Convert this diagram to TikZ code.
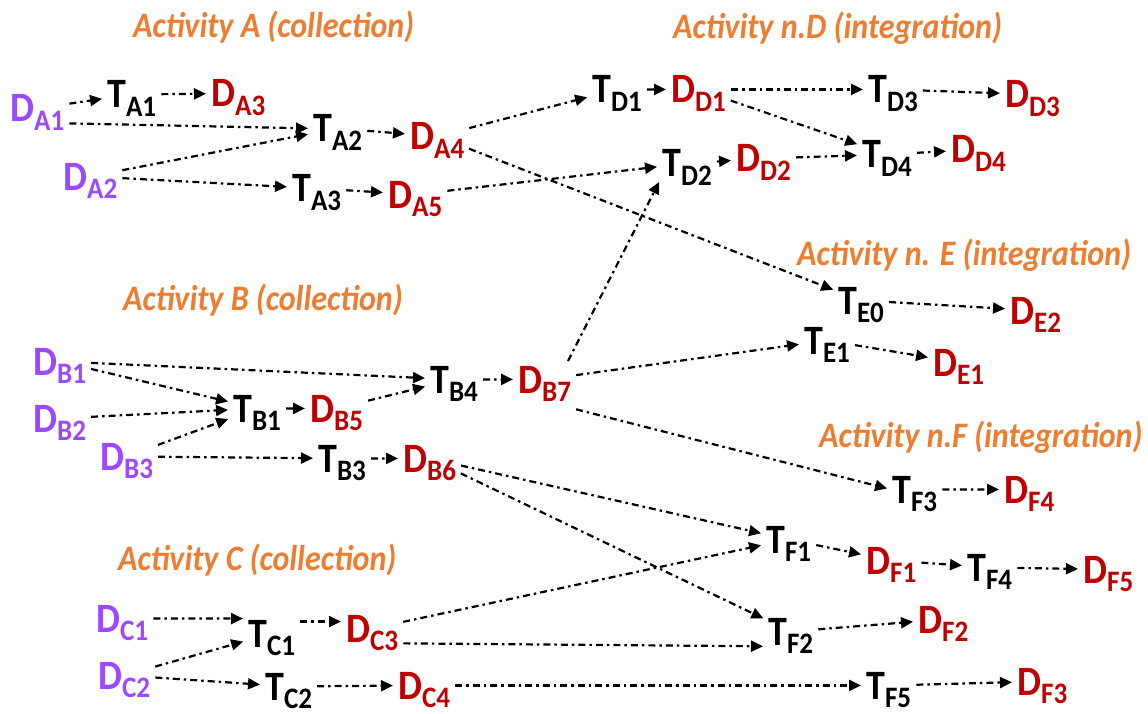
\documentclass[tikz,border=0pt]{standalone}
\usepackage{fontspec}
\usetikzlibrary{arrows.meta}
\newfontfamily\carl{Carlito}
\definecolor{inpurple}{RGB}{155,75,255}
\definecolor{outred}{RGB}{192,0,0}
\definecolor{actorange}{RGB}{237,125,49}
\newcommand\mainf{\carl\bfseries\fontsize{38}{40}\selectfont}
\newcommand\titlef{\carl\bfseries\itshape\fontsize{32}{34}\selectfont}
% letter with a lowered index; the index is smashed so the node box hugs the letter
\newcommand\lbl[2]{#1\smash{\raisebox{-8pt}{\fontsize{27}{28}\selectfont #2}}}
\tikzset{
  lab/.style={inner sep=1pt, anchor=base west, font=\mainf, yscale=1.1},
  din/.style={lab, text=inpurple},
  dout/.style={lab, text=outred},
  tsk/.style={lab, text=black},
  acttitle/.style={anchor=base west, inner sep=0pt, text=actorange, font=\titlef, yscale=1.12},
  flow/.style={line width=2.2pt, dash pattern=on 7pt off 4pt on 2.5pt off 4pt,
    -{Triangle[length=12pt,width=11pt]}, shorten <=4pt, shorten >=4pt}
}
\begin{document}
\begin{tikzpicture}[x=1pt,y=-1pt]
\path[use as bounding box, fill=white] (0,0) rectangle (1148,714);

% activity titles
\node[acttitle] (tA) at (133,38)  {Activity A (collection)};
\node[acttitle] (tD) at (673,39)  {Activity n.D (integration)};
\node[acttitle] (tE) at (797,265) {Activity n. E (integration)};
\node[acttitle] (tB) at (123,310) {Activity B (collection)};
\node[acttitle] (tF) at (819,447) {Activity n.F (integration)};
\node[acttitle] (tC) at (118,570) {Activity C (collection)};

% activity A
\node[din]  (DA1) at (9,122)   {\lbl{D}{A1}};
\node[din]  (DA2) at (62,190)  {\lbl{D}{A2}};
\node[tsk]  (TA1) at (106,108) {\lbl{T}{A1}};
\node[dout] (DA3) at (210,107) {\lbl{D}{A3}};
\node[tsk]  (TA2) at (312,142) {\lbl{T}{A2}};
\node[dout] (DA4) at (409,150) {\lbl{D}{A4}};
\node[tsk]  (TA3) at (291,202) {\lbl{T}{A3}};
\node[dout] (DA5) at (387,208) {\lbl{D}{A5}};

% activity D
\node[tsk]  (TD1) at (591,103) {\lbl{T}{D1}};
\node[dout] (DD1) at (670,103) {\lbl{D}{D1}};
\node[tsk]  (TD3) at (867,103) {\lbl{T}{D3}};
\node[dout] (DD3) at (1004,108) {\lbl{D}{D3}};
\node[tsk]  (TD2) at (661,177) {\lbl{T}{D2}};
\node[dout] (DD2) at (735,172) {\lbl{D}{D2}};
\node[tsk]  (TD4) at (861,168) {\lbl{T}{D4}};
\node[dout] (DD4) at (950,163) {\lbl{D}{D4}};

% activity E
\node[tsk]  (TE0) at (837,314) {\lbl{T}{E0}};
\node[dout] (DE2) at (1009,324) {\lbl{D}{E2}};
\node[tsk]  (TE1) at (803,354) {\lbl{T}{E1}};
\node[dout] (DE1) at (932,376) {\lbl{D}{E1}};

% activity B
\node[din]  (DB1) at (32,375)  {\lbl{D}{B1}};
\node[din]  (DB2) at (32,432)  {\lbl{D}{B2}};
\node[din]  (DB3) at (99,470)  {\lbl{D}{B3}};
\node[tsk]  (TB1) at (232,422) {\lbl{T}{B1}};
\node[dout] (DB5) at (309,422) {\lbl{D}{B5}};
\node[tsk]  (TB4) at (429,393) {\lbl{T}{B4}};
\node[dout] (DB7) at (517,393) {\lbl{D}{B7}};
\node[tsk]  (TB3) at (317,472) {\lbl{T}{B3}};
\node[dout] (DB6) at (402,472) {\lbl{D}{B6}};

% activity F
\node[tsk]  (TF3) at (891,503) {\lbl{T}{F3}};
\node[dout] (DF4) at (1003,503) {\lbl{D}{F4}};
\node[tsk]  (TF1) at (765,553) {\lbl{T}{F1}};
\node[dout] (DF1) at (865,574) {\lbl{D}{F1}};
\node[tsk]  (TF4) at (966,581) {\lbl{T}{F4}};
\node[dout] (DF5) at (1082,583) {\lbl{D}{F5}};
\node[tsk]  (TF2) at (767,645) {\lbl{T}{F2}};
\node[dout] (DF2) at (917,633) {\lbl{D}{F2}};
\node[tsk]  (TF5) at (865,699) {\lbl{T}{F5}};
\node[dout] (DF3) at (1016,695) {\lbl{D}{F3}};

% activity C
\node[din]  (DC1) at (95,632)  {\lbl{D}{C1}};
\node[din]  (DC2) at (97,689)  {\lbl{D}{C2}};
\node[tsk]  (TC1) at (247,647) {\lbl{T}{C1}};
\node[dout] (DC3) at (345,642) {\lbl{D}{C3}};
\node[tsk]  (TC2) at (264,700) {\lbl{T}{C2}};
\node[dout] (DC4) at (397,699) {\lbl{D}{C4}};

% data flows between nodes (centre to centre)
\foreach \a/\b in {DA1/TA1, TA1/DA3, DA2/TA2, TA2/DA4, DA2/TA3, TA3/DA5,
  DA4/TD1, DA4/TE0, DA5/TD2, DB7/TE1, TB4/DB7,
  TD1/DD1, DD1/TD3, TD3/DD3, DD1/TD4, TD2/DD2, DD2/TD4, TD4/DD4,
  TE0/DE2, TE1/DE1,
  DB1/TB4, DB1/TB1, DB2/TB1, DB3/TB1, TB1/DB5, DB5/TB4, DB3/TB3, TB3/DB6,
  DB6/TF1, DB6/TF2, DC3/TF1, TF1/DF1, DF1/TF4, TF4/DF5, TF3/DF4,
  TF2/DF2, TF5/DF3, DC4/TF5,
  DC2/TC1, DC2/TC2, TC2/DC4}
  \draw[flow] (\a) -- (\b);

% data flows leaving or entering at a corner
\draw[flow] (DA1.south east) -- (TA2.west);
\draw[flow] ([xshift=-6pt]DB7.north east) -- (TD2.south west);
\draw[flow] ([yshift=-14pt]DB7.south east) -- (TF3.west);
\draw[flow] (DC3.south east) -- (TF2.south west);
\draw[flow] (DC1) -- (TC1.north west);
\draw[flow] ([yshift=-3pt]TC1.north east) -- ([yshift=-3pt]TC1.north east -| DC3.west);
\end{tikzpicture}
\end{document}
